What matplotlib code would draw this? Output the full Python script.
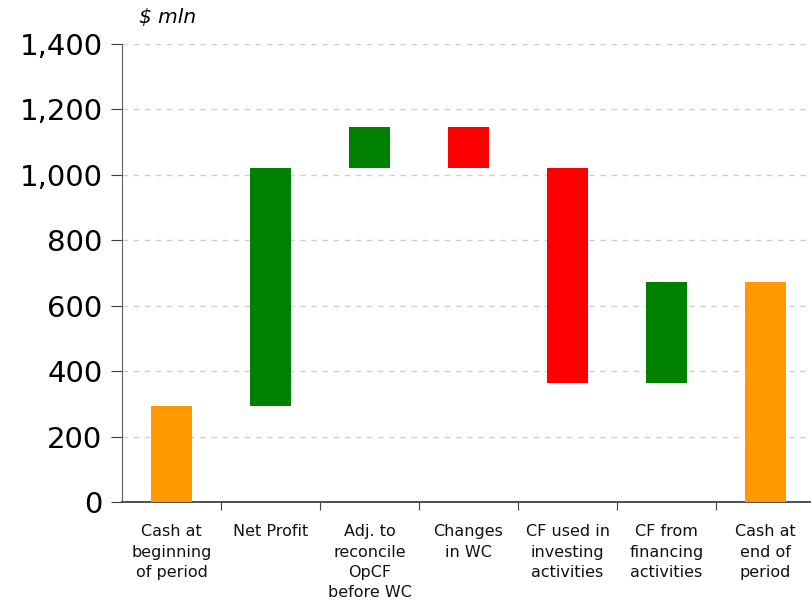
import numpy as np
import matplotlib.pyplot as plt
from matplotlib.ticker import FuncFormatter, FixedLocator

# cash flow bridge, $ mln
categories = ["Cash at\nbeginning\nof period", "Net Profit", "Adj. to\nreconcile\nOpCF\nbefore WC",
              "Changes\nin WC", "CF used in\ninvesting\nactivities", "CF from\nfinancing\nactivities",
              "Cash at\nend of\nperiod"]
start_cash = 293
changes = [729, 125, -127, -657, 311]
end_cash = 674

colors_pos = "#008000"
colors_neg = "#ff0000"
colors_total = "#ff9900"

# build bottoms / heights for the waterfall
bottoms = [0]
heights = [start_cash]
cols = [colors_total]
level = start_cash
for c in changes:
    if c >= 0:
        bottoms.append(level)
        heights.append(c)
        cols.append(colors_pos)
    else:
        bottoms.append(level + c)
        heights.append(-c)
        cols.append(colors_neg)
    level += c
bottoms.append(0)
heights.append(end_cash)
cols.append(colors_total)

fig = plt.figure(figsize=(8.12, 6.0), dpi=100)
ax = fig.add_axes([122 / 812, 98 / 600, 693 / 812, 458 / 600])

x = np.arange(len(categories))
ax.bar(x, heights, bottom=bottoms, width=0.42, color=cols, zorder=3)

ax.set_xlim(-0.5, len(categories) - 0.5)
ax.set_ylim(0, 1400)
ax.set_yticks(np.arange(0, 1401, 200))
ax.yaxis.set_major_formatter(FuncFormatter(lambda v, p: "{:,.0f}".format(v)))
ax.grid(axis="y", color="#d0d0d0", linestyle=(0, (4, 4)), linewidth=1, zorder=0)

ax.xaxis.set_major_locator(FixedLocator(x[:-1] + 0.5))
ax.xaxis.set_major_formatter(FuncFormatter(lambda v, p: ""))
ax.xaxis.set_minor_locator(FixedLocator(x))
ax.set_xticklabels(categories, minor=True)
ax.tick_params(axis="x", which="minor", length=0, pad=16, labelsize=11.5, labelcolor="#111111")
ax.tick_params(axis="x", which="major", length=6, direction="out", color="#404040")
ax.tick_params(axis="y", length=8, direction="out", color="#404040", labelsize=21, pad=6)
for lab in ax.get_xticklabels(minor=True):
    lab.set_verticalalignment("top")
    lab.set_linespacing(1.45)

for s in ["top", "right"]:
    ax.spines[s].set_visible(False)
ax.spines["left"].set_color("#606060")
ax.spines["bottom"].set_color("#404040")
ax.spines["bottom"].set_linewidth(1.3)

fig.text(139 / 812, 1 - 18 / 600, "$ mln", fontsize=14.5, style="italic", va="center")

fig.savefig("out.png", dpi=100)
